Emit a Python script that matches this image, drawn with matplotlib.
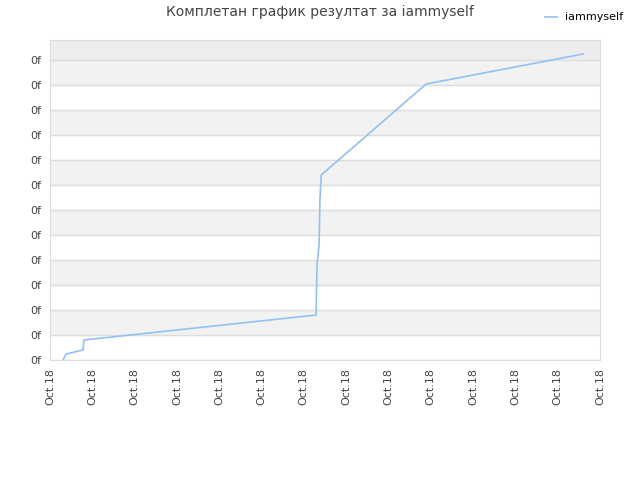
import matplotlib
matplotlib.use("Agg")
import matplotlib.pyplot as plt

# data (x in tick-step units, y in grid-step units)
x_vals = [0.31, 0.38, 0.78, 0.80, 6.29, 6.31, 6.36, 6.38, 6.41, 8.89, 12.6]
y_vals = [0.0, 0.24, 0.40, 0.80, 1.80, 3.80, 4.60, 6.40, 7.40, 11.04, 12.24]
x_labels = ["Oct.18"] * 14
y_labels = ["0f"] * 13
series_name = "iammyself"
title = "Комплетан график резултат за iammyself"

fig = plt.figure(figsize=(6.4, 4.8), dpi=100)
ax = fig.add_axes([50 / 640, 120 / 480, 550 / 640, 320 / 480])

y_top = 12.8
ax.set_xlim(0, len(x_labels) - 1)
ax.set_ylim(0, y_top)

# alternating bands
for k in range(len(y_labels) - 1):
    if k % 2 == 0:
        ax.axhspan(len(y_labels) - 2 - k, len(y_labels) - 1 - k, color="#f2f2f2", zorder=0)
ax.axhspan(len(y_labels) - 1, y_top, color="#ededed", zorder=0)
for k in range(len(y_labels)):
    ax.axhline(k, color="#dddddd", lw=1, zorder=1)

ax.plot(x_vals, y_vals, color="#92c1f2", lw=1.2, label=series_name, zorder=3)

ax.set_xticks(range(len(x_labels)))
ax.set_xticklabels(x_labels, rotation=90)
ax.set_yticks(range(len(y_labels)))
ax.set_yticklabels(y_labels)
ax.tick_params(length=0, labelsize=8, labelcolor="#444444", pad=6)
for s in ax.spines.values():
    s.set_color("#dddddd")

fig.text(0.5, 0.975, title, ha="center", va="center", fontsize=10, color="#444444")
fig.legend(loc="upper right", bbox_to_anchor=(0.99, 0.995), frameon=False,
           fontsize=8, handlelength=1.0, handletextpad=0.8)

fig.savefig("out.png", dpi=100)
